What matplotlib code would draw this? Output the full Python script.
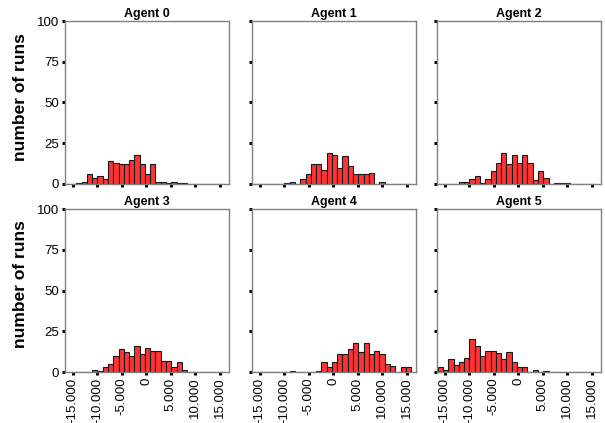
import numpy as np
import matplotlib
matplotlib.use('Agg')
import matplotlib.pyplot as plt
from matplotlib.ticker import FuncFormatter

plt.rcParams['font.family'] = ['Liberation Sans', 'DejaVu Sans']

# histogram bins (shared by all agents)
bin_start = -16400
bin_width = 1075
n_bins = 30

agents = ['Agent 0', 'Agent 1', 'Agent 2', 'Agent 3', 'Agent 4', 'Agent 5']

# counts per bin (index 0..29)
agent0 = [0, 0, 0.5, 1, 6, 3.5, 5, 3, 14, 13, 12, 12, 15, 18, 12, 6, 12, 1, 1, 0.5,
          1, 0.5, 0.5, 0, 0, 0, 0, 0, 0, 0]
agent1 = [0, 0, 0, 0, 0, 0, 0.5, 1, 0, 3, 6, 12, 12, 8.5, 19, 18, 10, 17, 11, 6,
          6, 6, 6.5, 0, 1, 0, 0, 0, 0, 0]
agent2 = [0, 0, 0, 0, 1, 1, 3, 5, 0.5, 3, 8, 13, 19, 12, 18, 13, 18, 13, 2.5, 8,
          3.5, 0, 0.5, 0.5, 0.5, 0, 0, 0, 0, 0]
agent3 = [0, 0, 0, 0, 0, 1.5, 0.6, 3, 5, 10, 14, 12.5, 10, 16, 11, 15, 13, 13, 6.5, 6.5,
          3, 6, 1.5, 0, 0, 0, 0, 0, 0, 0]
agent4 = [0, 0, 0, 0, 0, 0, 0, 0.5, 0, 0, 0, 0, 0.5, 6, 3, 6, 11, 11, 14, 17.5,
          12.5, 17.5, 11, 13, 11, 5, 3.5, 0, 3, 3]
agent5 = [3, 1, 8, 4, 6, 8.5, 20, 16, 10, 13, 13, 11.5, 8, 12.5, 6, 3, 3, 0, 1.5, 0,
          0.5, 0, 0, 0, 0, 0, 0, 0, 0, 0]
counts = [agent0, agent1, agent2, agent3, agent4, agent5]

x_ticks = [-15000, -10000, -5000, 0, 5000, 10000, 15000]
y_ticks = [0, 25, 50, 75, 100]

bin_left = [bin_start + i * bin_width for i in range(n_bins)]

W, H = 605, 423
fig = plt.figure(figsize=(W / 100, H / 100), dpi=100)

lefts = [65, 252, 437]
tops = [21, 209]
aw, ah = 164, 163


def thousands(v, pos):
    s = f"{abs(int(v)):,}".replace(',', '.')
    return ('-' if v < 0 else '') + s


for k, name in enumerate(agents):
    r, c = divmod(k, 3)
    ax = fig.add_axes([lefts[c] / W, 1 - (tops[r] + ah) / H, aw / W, ah / H])
    ax.bar(bin_left, counts[k], width=bin_width, align='edge',
           color='#ff3333', edgecolor='#1a1a1a', linewidth=0.8)
    ax.set_xlim(-16550, 16850)
    ax.set_ylim(0, 100)
    ax.set_xticks(x_ticks)
    ax.set_yticks(y_ticks)
    ax.xaxis.set_major_formatter(FuncFormatter(thousands))
    for s in ax.spines.values():
        s.set_color('#808080')
        s.set_linewidth(1.0)
    ax.tick_params(axis='both', direction='out', length=2.2, width=2.2,
                   color='black', labelsize=9.5, pad=2)
    ax.tick_params(axis='x', labelrotation=90)
    if c != 0:
        ax.tick_params(axis='y', labelleft=False)
    if r == 0:
        ax.tick_params(axis='x', labelbottom=False)
    ax.set_title(name, fontsize=9, fontweight='bold', pad=3)

fig.text(21 / W, 1 - 97 / H, 'number of runs', rotation=90, fontsize=12.5,
         fontweight='bold', ha='center', va='center')
fig.text(21 / W, 1 - 284 / H, 'number of runs', rotation=90, fontsize=12.5,
         fontweight='bold', ha='center', va='center')

fig.savefig('out.png', dpi=100)
